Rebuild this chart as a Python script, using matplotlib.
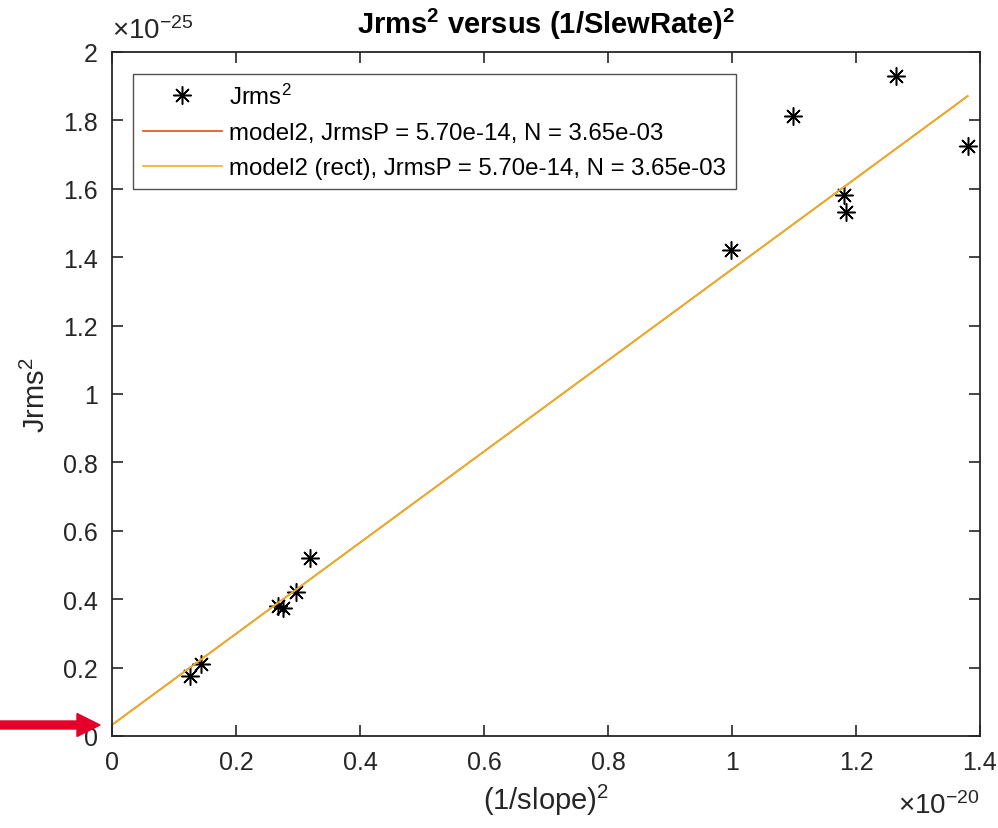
import matplotlib
matplotlib.use("Agg")
import matplotlib.pyplot as plt
from matplotlib.patches import FancyArrow

plt.rcParams['font.family'] = ['Liberation Sans', 'DejaVu Sans']
plt.rcParams['mathtext.fontset'] = 'custom'
plt.rcParams['mathtext.rm'] = 'Liberation Sans'
plt.rcParams['mathtext.it'] = 'Liberation Sans'
plt.rcParams['mathtext.bf'] = 'Liberation Sans:bold'

# data (x in units of 1e-20, y in units of 1e-25)
x_pts = [0.126, 0.143, 0.267, 0.275, 0.296, 0.319, 0.998, 1.099, 1.181, 1.184, 1.264, 1.380]
y_pts = [0.175, 0.211, 0.379, 0.373, 0.422, 0.520, 1.421, 1.814, 1.583, 1.531, 1.929, 1.726]

# model line endpoints
line_x = [0.0, 1.380]
line_y = [0.0325, 1.871]

x_ticks = [0, 0.2, 0.4, 0.6, 0.8, 1.0, 1.2, 1.4]
x_ticklabels = ['0', '0.2', '0.4', '0.6', '0.8', '1', '1.2', '1.4']
y_ticks = [0, 0.2, 0.4, 0.6, 0.8, 1.0, 1.2, 1.4, 1.6, 1.8, 2.0]
y_ticklabels = ['0', '0.2', '0.4', '0.6', '0.8', '1', '1.2', '1.4', '1.6', '1.8', '2']

legend_labels = [r'Jrms$^{2}$',
                 'model2, JrmsP = 5.70e-14, N = 3.65e-03',
                 'model2 (rect), JrmsP = 5.70e-14, N = 3.65e-03']

W, H = 998, 829
fig = plt.figure(figsize=(W / 100, H / 100), dpi=100)
ax = fig.add_axes([112 / W, (H - 737) / H, 868 / W, 684 / H])

dark = '#262626'
ax.plot(x_pts, y_pts, linestyle='none', marker=(8, 2, 0), markersize=13,
        markeredgewidth=1.1, color='black', label=legend_labels[0])
ax.plot(line_x, line_y, color='#D95319', lw=1.2, label=legend_labels[1])
ax.plot(line_x, line_y, color='#EDB120', lw=1.2, label=legend_labels[2])

ax.set_xlim(0, 1.4)
ax.set_ylim(0, 2.0)
ax.set_xticks(x_ticks)
ax.set_xticklabels(x_ticklabels)
ax.set_yticks(y_ticks)
ax.set_yticklabels(y_ticklabels)
ax.tick_params(direction='in', top=True, right=True, length=8, width=1.2,
               colors=dark, labelsize=18, pad=10)
for s in ax.spines.values():
    s.set_color(dark)
    s.set_linewidth(1.3)

ax.set_title(r'Jrms$^{\mathbf{2}}$ versus (1/SlewRate)$^{\mathbf{2}}$',
             fontsize=21, fontweight='bold', color='black', pad=14)
ax.set_xlabel(r'(1/slope)$^{2}$', fontsize=21, color=dark, labelpad=6)
ax.set_ylabel(r'Jrms$^{2}$', fontsize=21, color=dark, labelpad=9)

ax.text(0.0, 1.012, r'$\times$10$^{-25}$', transform=ax.transAxes,
        fontsize=20, color=dark, ha='left', va='bottom')
ax.text(1.0, -0.08, r'$\times$10$^{-20}$', transform=ax.transAxes,
        fontsize=20, color=dark, ha='right', va='top')

leg = ax.legend(loc='upper left', bbox_to_anchor=(21 / 868, 1 - 22 / 684),
                borderaxespad=0, fontsize=17.3, frameon=True, fancybox=False,
                handlelength=3.3, handletextpad=0.3, borderpad=0.4,
                labelspacing=0.55)
leg.get_frame().set_edgecolor(dark)
leg.get_frame().set_linewidth(1.0)

# red arrow pointing at the intercept
arr = FancyArrow(0 / W, (H - 726) / H, 100 / W, 0, width=8 / H,
                 head_width=23 / H, head_length=23 / W,
                 length_includes_head=True, color='#E4002B',
                 transform=fig.transFigure, clip_on=False)
fig.patches.append(arr)

fig.savefig('out.png', dpi=100)
